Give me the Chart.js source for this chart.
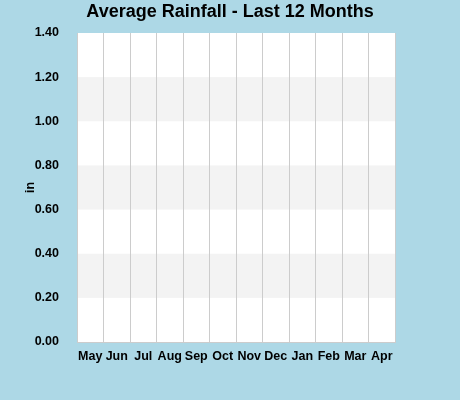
<!DOCTYPE html>
<html>
<head>
<script src="https://cdn.jsdelivr.net/npm/chart.js@4"></script>
<style>
body { margin: 0; background: #add8e6; }
#wrap { width: 460px; height: 400px; }
</style>
</head>
<body>
<div id="wrap"><canvas id="c"></canvas></div>
<script>
const months = ['May', 'Jun', 'Jul', 'Aug', 'Sep', 'Oct', 'Nov', 'Dec', 'Jan', 'Feb', 'Mar', 'Apr'];
const rainfall = [0, 0, 0, 0, 0, 0, 0, 0, 0, 0, 0, 0];
const yTicks = [0, 0.2, 0.4, 0.6, 0.8, 1.0, 1.2, 1.4];
const titleText = 'Average Rainfall - Last 12 Months';

// alternating grey bands behind the plot, title centred on the canvas
const bands = {
    id: 'bands',
    beforeDraw(chart) {
        const { ctx, chartArea: a, scales: { y } } = chart;
        ctx.save();
        ctx.fillStyle = '#ffffff';
        ctx.fillRect(a.left, a.top, a.right - a.left, a.bottom - a.top);
        ctx.fillStyle = '#f3f3f3';
        for (let i = 1; i < yTicks.length - 1; i += 2) {
            const top = y.getPixelForValue(yTicks[i + 1]);
            const bot = y.getPixelForValue(yTicks[i]);
            ctx.fillRect(a.left, top, a.right - a.left, bot - top);
        }
        ctx.fillStyle = '#000';
        ctx.font = 'bold 18px Arial, "Liberation Sans", sans-serif';
        ctx.textAlign = 'center';
        ctx.textBaseline = 'middle';
        ctx.fillText(titleText, chart.width / 2, 12);
        ctx.restore();
    }
};

Chart.defaults.font.family = 'Arial, "Liberation Sans", sans-serif';
Chart.defaults.color = '#000';

new Chart(document.getElementById('c'), {
    type: 'bar',
    data: {
        labels: months,
        datasets: [{ label: 'Rainfall', data: rainfall, backgroundColor: '#4a7ebb' }]
    },
    options: {
        responsive: true,
        maintainAspectRatio: false,
        animation: false,
        layout: { padding: { top: 33, right: 65, bottom: 29, left: 23 } },
        plugins: {
            legend: { display: false },
            tooltip: { enabled: false },
            title: { display: false }
        },
        scales: {
            x: {
                grid: { color: '#cccccc', offset: true, drawTicks: false },
                border: { color: '#cccccc' },
                ticks: { font: { size: 12.5, weight: 'bold' }, padding: 7, maxRotation: 0, autoSkip: false }
            },
            y: {
                min: 0,
                max: 1.4,
                afterBuildTicks(s) { s.ticks = yTicks.map(v => ({ value: v })); },
                afterFit(s) { s.width = 54; },
                grid: { display: false },
                border: { color: '#cccccc' },
                title: { display: true, text: 'in', font: { size: 12.5, weight: 'bold' }, padding: 0 },
                ticks: { font: { size: 12.5, weight: 'bold' }, padding: 10, callback: v => v.toFixed(2) }
            }
        }
    },
    plugins: [bands]
});
</script>
</body>
</html>
